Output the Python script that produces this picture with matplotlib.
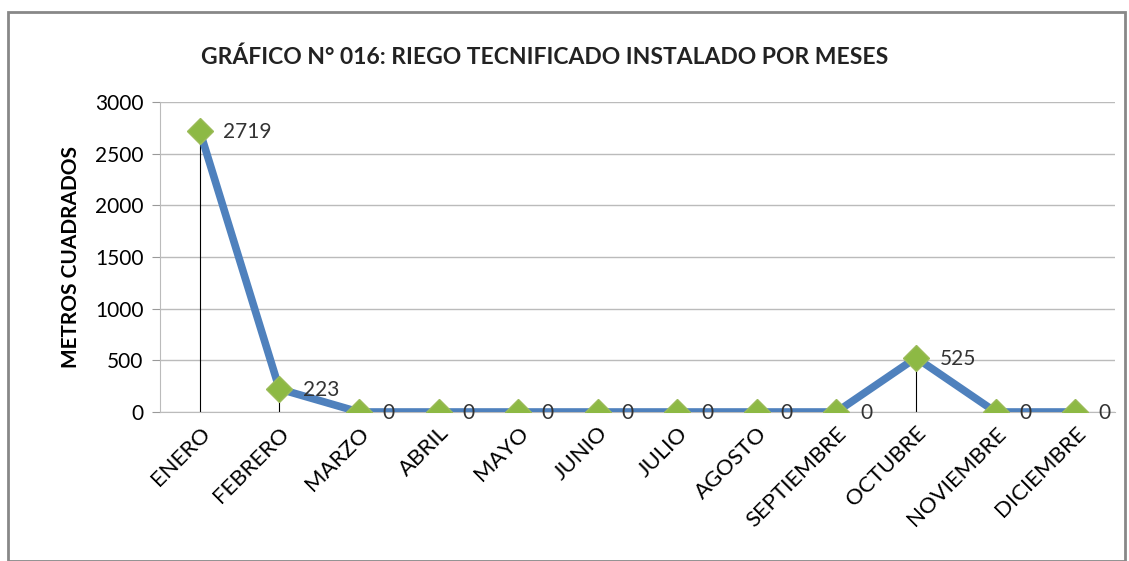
import matplotlib.pyplot as plt
from matplotlib.patches import Rectangle

meses = ['ENERO', 'FEBRERO', 'MARZO', 'ABRIL', 'MAYO', 'JUNIO', 'JULIO',
         'AGOSTO', 'SEPTIEMBRE', 'OCTUBRE', 'NOVIEMBRE', 'DICIEMBRE']
metros = [2719, 223, 0, 0, 0, 0, 0, 0, 0, 525, 0, 0]

plt.rcParams['font.family'] = ['Lato', 'DejaVu Sans']

fig = plt.figure(figsize=(11.29, 5.61), dpi=100)
ax = fig.add_axes([160 / 1129, 1 - 412 / 561, 955 / 1129, 310 / 561])

x = list(range(len(meses)))
ax.vlines(x, 0, metros, color='black', linewidth=0.8, zorder=2)
ax.plot(x, metros, color='#4F81BD', linewidth=5.5, zorder=3, solid_capstyle='round')
ax.plot(x, metros, linestyle='none', marker='D', markersize=13,
        color='#8DB944', markeredgecolor='#9BBB59', zorder=4)

for xi, v in zip(x, metros):
    ax.annotate(str(v), (xi, v), xytext=(17, -1), textcoords='offset points',
                ha='left', va='center', fontsize=15, color='#333333')

ax.set_xlim(-0.5, 11.5)
ax.set_ylim(0, 3000)
ax.set_yticks(range(0, 3001, 500))
ax.set_xticks(x)
ax.set_xticklabels(meses, rotation=45, ha='right', rotation_mode='anchor', fontsize=16)
ax.tick_params(axis='y', labelsize=15, length=6, color='#999999', pad=6)
ax.tick_params(axis='x', length=0, pad=8)
ax.grid(axis='y', color='#BBBBBB', linewidth=1)
ax.set_axisbelow(True)
for s in ['top', 'right']:
    ax.spines[s].set_visible(False)
ax.spines['left'].set_color('#BBBBBB')
ax.spines['bottom'].set_color('#BBBBBB')

ax.set_ylabel('METROS CUADRADOS', fontsize=15, fontweight='bold', labelpad=10)
fig.text(545 / 1129, 1 - 57 / 561, 'GRÁFICO N° 016: RIEGO TECNIFICADO INSTALADO POR MESES',
         ha='center', va='center', fontsize=16.5, fontweight='bold', color='#222222')

fig.patches.append(Rectangle((8 / 1129, 0), 1117 / 1129, 1 - 12 / 561,
                             transform=fig.transFigure, fill=False,
                             edgecolor='#888888', linewidth=2))

plt.savefig('out.png', dpi=100)
